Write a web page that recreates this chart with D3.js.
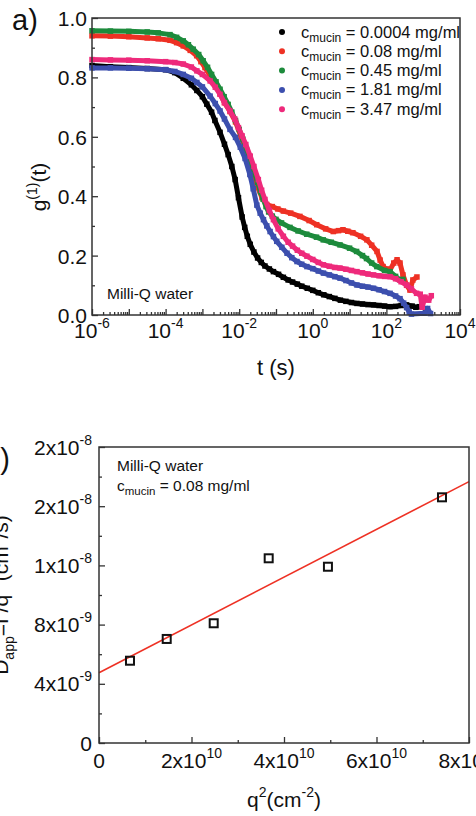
<!DOCTYPE html>
<html><head><meta charset="utf-8">
<script src="https://cdn.jsdelivr.net/npm/d3@7"></script>
<style>
html,body{margin:0;padding:0;background:#fff;overflow:hidden;}
svg{display:block;font-family:"Liberation Sans",Arial,sans-serif;}
</style></head><body>
<svg id="c" width="476" height="816"></svg>
<script>
// ---------- Panel a) data: [log10 t (s), g1(t)] ----------
const seriesNames = ["0.0004 mg/ml","0.08 mg/ml","0.45 mg/ml","1.81 mg/ml","3.47 mg/ml"];
const seriesColors = ["#000000","#ee3124","#1d8b3c","#3c4fae","#ee2a7b"];
const black = [[-6,0.840],[-5.5,0.836],[-5,0.833],[-4.5,0.830],[-4,0.826],[-3.75,0.816],[-3.52,0.797],[-3.3,0.775],[-3.15,0.756],[-3,0.735],[-2.88,0.71],[-2.75,0.683],[-2.66,0.655],[-2.52,0.615],[-2.4,0.575],[-2.3,0.54],[-2.2,0.5],[-2.11,0.456],[-2.02,0.395],[-1.92,0.33],[-1.85,0.295],[-1.78,0.265],[-1.7,0.238],[-1.6,0.212],[-1.5,0.192],[-1.4,0.177],[-1.3,0.165],[-1.18,0.155],[-1.07,0.146],[-0.93,0.137],[-0.8,0.127],[-0.67,0.118],[-0.55,0.111],[-0.42,0.104],[-0.3,0.097],[-0.15,0.09],[0,0.083],[0.15,0.075],[0.3,0.068],[0.45,0.062],[0.6,0.056],[0.75,0.05],[0.9,0.046],[1.05,0.042],[1.2,0.039],[1.35,0.037],[1.5,0.035],[1.65,0.034],[1.8,0.032],[1.95,0.03],[2.1,0.028],[2.25,0.029],[2.4,0.032],[2.55,0.034],[2.7,0.03],[2.8,0.026],[2.9,0.028]];
const red = [[-6,0.940],[-5.5,0.939],[-5,0.937],[-4.5,0.933],[-4.2,0.930],[-3.88,0.925],[-3.7,0.917],[-3.52,0.906],[-3.33,0.891],[-3.155,0.873],[-3.04,0.853],[-2.93,0.833],[-2.79,0.805],[-2.65,0.775],[-2.52,0.745],[-2.4,0.715],[-2.25,0.685],[-2.1,0.65],[-1.95,0.6],[-1.8,0.55],[-1.65,0.49],[-1.5,0.43],[-1.38,0.395],[-1.25,0.372],[-1.1,0.365],[-0.95,0.357],[-0.8,0.35],[-0.6,0.343],[-0.35,0.332],[-0.1,0.318],[0.106,0.304],[0.35,0.29],[0.557,0.281],[0.7,0.284],[0.82,0.287],[0.95,0.282],[1.09,0.277],[1.3,0.265],[1.47,0.253],[1.6,0.235],[1.745,0.214],[1.83,0.185],[1.91,0.163],[2.0,0.155],[2.1,0.152],[2.2,0.175],[2.29,0.186],[2.37,0.175],[2.45,0.135],[2.55,0.1],[2.64,0.084],[2.72,0.118],[2.83,0.128]];
const green = [[-6,0.957],[-5.5,0.956],[-5,0.955],[-4.5,0.953],[-4.2,0.950],[-3.88,0.944],[-3.7,0.935],[-3.52,0.923],[-3.38,0.91],[-3.25,0.895],[-3.1,0.877],[-2.98,0.856],[-2.86,0.834],[-2.75,0.81],[-2.63,0.785],[-2.52,0.76],[-2.41,0.735],[-2.3,0.709],[-2.2,0.683],[-2.1,0.655],[-2.0,0.625],[-1.9,0.592],[-1.8,0.557],[-1.7,0.52],[-1.6,0.483],[-1.5,0.447],[-1.42,0.415],[-1.35,0.39],[-1.27,0.365],[-1.2,0.347],[-1.1,0.333],[-1.0,0.322],[-0.85,0.31],[-0.62,0.295],[-0.4,0.283],[-0.165,0.272],[0.1,0.262],[0.285,0.253],[0.5,0.245],[0.74,0.236],[1.0,0.225],[1.19,0.214],[1.35,0.2],[1.46,0.19],[1.6,0.175],[1.74,0.163],[1.95,0.15],[2.1,0.146],[2.25,0.13],[2.37,0.118],[2.45,0.12]];
const blue = [[-6,0.832],[-5.5,0.832],[-5,0.831],[-4.5,0.829],[-4,0.826],[-3.75,0.820],[-3.52,0.810],[-3.3,0.797],[-3.15,0.783],[-3,0.768],[-2.79,0.737],[-2.65,0.712],[-2.52,0.687],[-2.4,0.66],[-2.25,0.625],[-2.1,0.598],[-1.97,0.565],[-1.84,0.527],[-1.71,0.473],[-1.62,0.425],[-1.52,0.37],[-1.43,0.343],[-1.34,0.321],[-1.25,0.3],[-1.16,0.281],[-1.07,0.264],[-0.98,0.248],[-0.84,0.228],[-0.7,0.208],[-0.57,0.193],[-0.43,0.18],[-0.3,0.171],[-0.16,0.163],[0,0.156],[0.15,0.148],[0.29,0.141],[0.45,0.135],[0.6,0.129],[0.74,0.124],[0.9,0.116],[1.05,0.108],[1.2,0.101],[1.35,0.097],[1.5,0.094],[1.65,0.09],[1.8,0.085],[1.95,0.079],[2.1,0.073],[2.25,0.064],[2.37,0.055],[2.47,0.04],[2.55,0.025],[2.62,0.01],[2.68,0.003],[3.05,0.006],[3.12,0.022],[3.2,0.005]];
const pink = [[-6,0.860],[-5.5,0.859],[-5,0.858],[-4.5,0.856],[-4,0.853],[-3.75,0.850],[-3.52,0.845],[-3.3,0.835],[-3.15,0.822],[-3,0.81],[-2.79,0.788],[-2.65,0.767],[-2.52,0.743],[-2.4,0.715],[-2.25,0.687],[-2.12,0.66],[-2.02,0.631],[-1.92,0.603],[-1.82,0.574],[-1.7,0.535],[-1.6,0.5],[-1.48,0.456],[-1.39,0.42],[-1.3,0.389],[-1.18,0.352],[-1.07,0.321],[-0.94,0.29],[-0.8,0.265],[-0.67,0.245],[-0.55,0.232],[-0.42,0.218],[-0.3,0.208],[-0.16,0.198],[0,0.187],[0.15,0.177],[0.29,0.169],[0.45,0.164],[0.6,0.16],[0.74,0.158],[0.9,0.154],[1.05,0.15],[1.2,0.146],[1.35,0.142],[1.5,0.138],[1.65,0.135],[1.8,0.132],[1.95,0.13],[2.1,0.129],[2.25,0.122],[2.4,0.112],[2.55,0.101],[2.68,0.088],[2.82,0.073],[2.92,0.07],[2.97,0.026],[3.05,0.06],[3.15,0.05],[3.22,0.065]];
const topXLabelExps = [-6,-4,-2,0,2,4];
const topXMajorExps = [-6,-5,-4,-3,-2,-1,0,1,2,3,4];
const topYTicks = [0,0.2,0.4,0.6,0.8,1.0];
const topYMinor = [0.1,0.3,0.5,0.7,0.9];

// ---------- Panel b) data ----------
const q2 = [6.7e9,1.464e10,2.48e10,3.669e10,4.95e10,7.416e10];
const Dapp = [5.56e-9,7.03e-9,8.09e-9,1.248e-8,1.191e-8,1.66e-8];
const fitQ2 = [0,8e10];
const fitD = [4.75e-9,1.766e-8];
const botXTicks = [0,2e10,4e10,6e10,8e10];
const botXLabels = [["0",""],["2x10","10"],["4x10","10"],["6x10","10"],["8x10","10"]];
const botXMinor = [1e10,3e10,5e10,7e10];
const botYTicks = [0,4e-9,8e-9,1.2e-8,1.6e-8,2e-8];
const botYLabels = [["0",""],["4x10","-9"],["8x10","-9"],["1x10","-8"],["2x10","-8"],["2x10","-8"]];
const botYMinor = [2e-9,6e-9,1e-8,1.4e-8,1.8e-8];

const svg = d3.select("#c");
const FRAME = "#333";

function styleAxis(g){
  g.select(".domain").remove();
  g.selectAll("line").attr("stroke",FRAME).attr("stroke-width",1.3);
}
function expLabel(sel, base, exp, size, supSize, rise){
  sel.append("tspan").text(base).attr("font-size",size);
  if(exp!=="") sel.append("tspan").text(exp).attr("font-size",supSize).attr("dy",-rise);
}

// ===== Panel a =====
const xT = d3.scaleLog().domain([1e-6,1e4]).range([92,460]);
const yT = d3.scaleLinear().domain([0,1]).range([315,18]);
const gA = svg.append("g");

// minor x ticks
const minorX = [];
for(let e=-6;e<4;e++) for(let m=2;m<=9;m++) minorX.push(m*Math.pow(10,e));
gA.append("g").attr("transform","translate(0,315)")
  .call(d3.axisBottom(xT).tickValues(minorX).tickSize(-3).tickFormat("")).call(styleAxis);
gA.append("g").attr("transform","translate(0,315)")
  .call(d3.axisBottom(xT).tickValues(topXMajorExps.map(e=>Math.pow(10,e))).tickSize(-6).tickFormat("")).call(styleAxis);
gA.append("g").attr("transform","translate(92,0)")
  .call(d3.axisLeft(yT).tickValues(topYMinor).tickSize(-3).tickFormat("")).call(styleAxis);
const yAx = gA.append("g").attr("transform","translate(92,0)")
  .call(d3.axisLeft(yT).tickValues(topYTicks).tickSize(-6).tickPadding(5).tickFormat(d3.format(".1f")));
styleAxis(yAx);
yAx.selectAll("text").attr("font-size",21).attr("fill","#111").attr("font-family","Liberation Sans, Arial, sans-serif").attr("dy","0.36em");

// x tick labels (10^n)
gA.selectAll("text.xl").data(topXLabelExps).enter().append("text")
  .attr("x",d=>xT(Math.pow(10,d))).attr("y",338).attr("text-anchor","middle").attr("fill","#111")
  .each(function(d){ expLabel(d3.select(this),"10",String(d).replace("-","-"),21,14,10); });

// series
const allSeries = [black,red,green,blue,pink];
const line = d3.line().x(d=>xT(Math.pow(10,d[0]))).y(d=>yT(d[1]));
allSeries.forEach((s,i)=>{
  gA.append("path").attr("d",line(s)).attr("fill","none").attr("stroke",seriesColors[i])
    .attr("stroke-width",5).attr("stroke-linejoin","round");
  gA.selectAll(null).data(s).enter().append("rect")
    .attr("x",d=>xT(Math.pow(10,d[0]))-2.75).attr("y",d=>yT(d[1])-2.75)
    .attr("width",5.5).attr("height",5.5).attr("fill",seriesColors[i]);
});

// frame
gA.append("rect").attr("x",92).attr("y",18).attr("width",368).attr("height",297)
  .attr("fill","none").attr("stroke",FRAME).attr("stroke-width",1.5);

// legend
seriesNames.forEach((n,i)=>{
  const yy = 32 + i*19.3;
  gA.append("circle").attr("cx",282).attr("cy",yy).attr("r",3).attr("fill",seriesColors[i]);
  const t = gA.append("text").attr("x",301).attr("y",yy+5.5).attr("fill","#111");
  t.append("tspan").text("c").attr("font-size",16.5);
  t.append("tspan").text("mucin").attr("font-size",12).attr("dy",4);
  t.append("tspan").text(" = "+n).attr("font-size",16.5).attr("dy",-4);
});

gA.append("text").attr("x",107).attr("y",299).attr("font-size",15.5).attr("fill","#111").text("Milli-Q water");
gA.append("text").attr("x",12).attr("y",30).attr("font-size",29).attr("fill","#111").text("a)");
gA.append("text").attr("x",276).attr("y",375).attr("text-anchor","middle").attr("font-size",22).attr("fill","#111").text("t (s)");
const yt = gA.append("text").attr("transform","translate(46,187) rotate(-90)").attr("text-anchor","middle").attr("fill","#111");
yt.append("tspan").text("g").attr("font-size",21);
yt.append("tspan").text("(1)").attr("font-size",14).attr("dy",-9);
yt.append("tspan").text("(t)").attr("font-size",21).attr("dy",9);

// ===== Panel b =====
const xB = d3.scaleLinear().domain([0,8e10]).range([99,469]);
const yB = d3.scaleLinear().domain([0,2e-8]).range([743,447]);
const gB = svg.append("g");
gB.append("g").attr("transform","translate(0,743)")
  .call(d3.axisBottom(xB).tickValues(botXMinor).tickSize(-3).tickFormat("")).call(styleAxis);
gB.append("g").attr("transform","translate(0,743)")
  .call(d3.axisBottom(xB).tickValues(botXTicks).tickSize(-6).tickFormat("")).call(styleAxis);
gB.append("g").attr("transform","translate(99,0)")
  .call(d3.axisLeft(yB).tickValues(botYMinor).tickSize(-3).tickFormat("")).call(styleAxis);
gB.append("g").attr("transform","translate(99,0)")
  .call(d3.axisLeft(yB).tickValues(botYTicks).tickSize(-6).tickFormat("")).call(styleAxis);

gB.selectAll("text.bx").data(botXTicks).enter().append("text")
  .attr("x",d=>xB(d)).attr("y",768).attr("text-anchor","middle").attr("fill","#111")
  .each(function(d,i){ expLabel(d3.select(this),botXLabels[i][0],botXLabels[i][1],21,14,10); });
gB.selectAll("text.by").data(botYTicks).enter().append("text")
  .attr("x",92).attr("y",d=>yB(d)+7.5).attr("text-anchor","end").attr("fill","#111")
  .each(function(d,i){ expLabel(d3.select(this),botYLabels[i][0],botYLabels[i][1],21,14,10); });

// fit line
gB.append("path").attr("d",d3.line().x((d,i)=>xB(fitQ2[i])).y(d=>yB(d))(fitD))
  .attr("stroke","#ee3124").attr("stroke-width",1.6).attr("fill","none");
// squares
gB.selectAll("rect.pt").data(q2).enter().append("rect")
  .attr("x",(d)=>xB(d)-4).attr("y",(d,i)=>yB(Dapp[i])-4).attr("width",8).attr("height",8)
  .attr("fill","none").attr("stroke","#111").attr("stroke-width",2);

gB.append("rect").attr("x",99).attr("y",447).attr("width",370).attr("height",296)
  .attr("fill","none").attr("stroke",FRAME).attr("stroke-width",1.5);

gB.append("text").attr("x",117).attr("y",471).attr("font-size",15.5).attr("fill","#111").text("Milli-Q water");
const ca = gB.append("text").attr("x",117).attr("y",491).attr("fill","#111");
ca.append("tspan").text("c").attr("font-size",15.5);
ca.append("tspan").text("mucin").attr("font-size",11.5).attr("dy",4);
ca.append("tspan").text(" = 0.08 mg/ml").attr("font-size",15.5).attr("dy",-4);

gB.append("text").attr("x",10).attr("y",469).attr("text-anchor","end").attr("font-size",29).attr("fill","#111").text("b)");

const xt = gB.append("text").attr("x",284).attr("y",807).attr("text-anchor","middle").attr("fill","#111");
xt.append("tspan").text("q").attr("font-size",21);
xt.append("tspan").text("2").attr("font-size",14).attr("dy",-10);
xt.append("tspan").text("(cm").attr("font-size",21).attr("dy",10);
xt.append("tspan").text("-2").attr("font-size",14).attr("dy",-10);
xt.append("tspan").text(")").attr("font-size",21).attr("dy",10);

const ytb = gB.append("text").attr("transform","translate(8,595) rotate(-90)").attr("text-anchor","middle").attr("fill","#111");
ytb.append("tspan").text("D").attr("font-size",21);
ytb.append("tspan").text("app").attr("font-size",14).attr("dy",6);
ytb.append("tspan").text("=Γ/q").attr("font-size",21).attr("dy",-6);
ytb.append("tspan").text("2").attr("font-size",14).attr("dy",-10);
ytb.append("tspan").text(" (cm").attr("font-size",21).attr("dy",10);
ytb.append("tspan").text("2").attr("font-size",14).attr("dy",-10);
ytb.append("tspan").text("/s)").attr("font-size",21).attr("dy",10);
</script>
</body></html>
